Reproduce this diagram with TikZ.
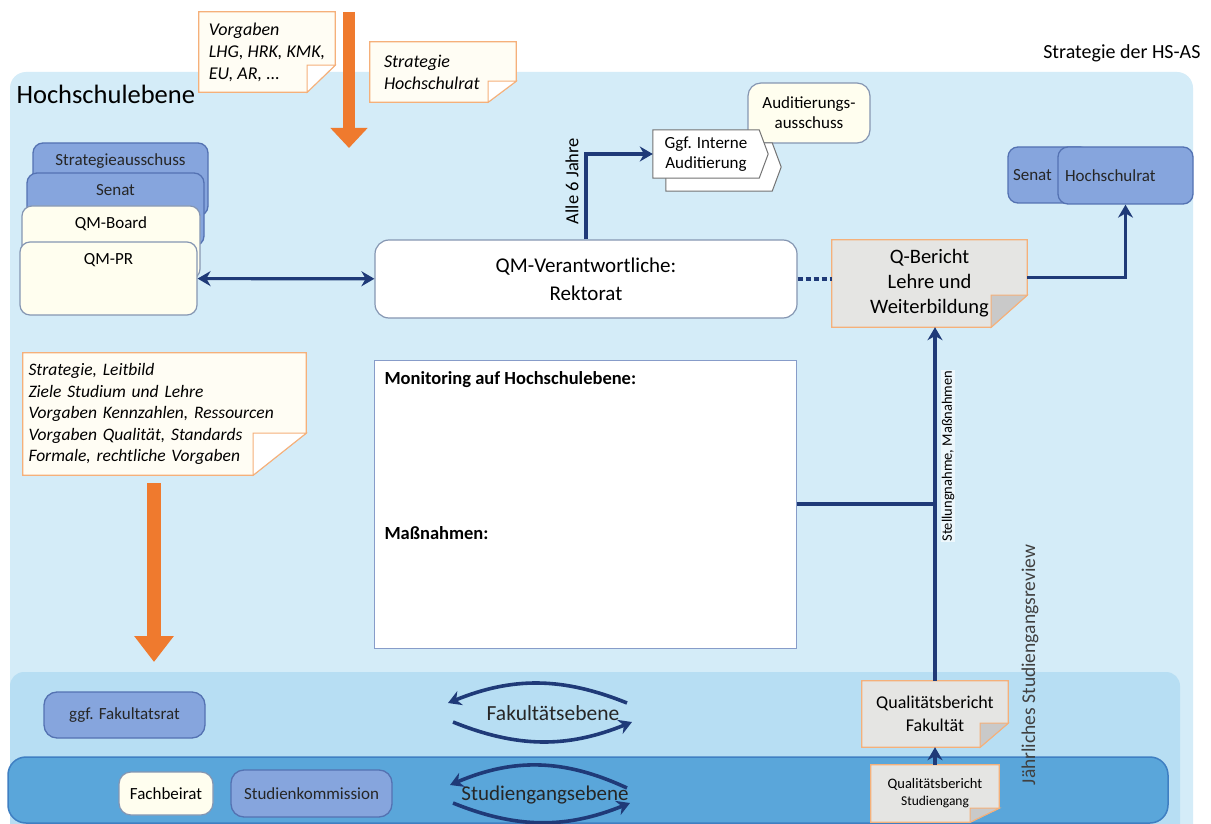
\documentclass[tikz,border=0pt]{standalone}
\usepackage{fontspec}
\setmainfont{Carlito}
\usetikzlibrary{arrows.meta,positioning}
\pgfdeclarelayer{back}
\pgfdeclarelayer{notes}
\pgfsetlayers{back,notes,main}

\definecolor{hsbg}{HTML}{D4ECF8}
\definecolor{fakbg}{HTML}{B7DEF3}
\definecolor{stgbg}{HTML}{5AA6DA}
\definecolor{stgline}{HTML}{3F7FC2}
\definecolor{boxblue}{HTML}{86A5DD}
\definecolor{boxline}{HTML}{5472B2}
\definecolor{cream}{HTML}{FFFEEF}
\definecolor{creamline}{HTML}{8596B2}
\definecolor{notefill}{HTML}{FFFDF4}
\definecolor{noteline}{HTML}{F5B07A}
\definecolor{notegray}{HTML}{E5E5E3}
\definecolor{foldgray}{HTML}{C9C9C9}
\definecolor{navy}{HTML}{1F3A78}
\definecolor{orangearr}{HTML}{EF7A2E}

\begin{document}
\begin{tikzpicture}[x=1pt, y=-1pt, >={Stealth[length=13pt,width=15pt]},
 every edge/.style = {->, draw=navy, line width=3.2pt},
 fs/.style args = {#1/#2}{font=\fontsize{#1}{#2}\selectfont},
 fsi/.style args = {#1/#2}{font=\fontsize{#1}{#2}\selectfont\itshape},
 sz/.style args = {#1/#2}{minimum width=#1, minimum height=#2, inner sep=0pt},
 bluebox/.style = {draw=boxline, fill=boxblue, line width=1.3pt, rounded corners=10pt, fs=17/20, text=black!85},
 creambox/.style = {draw=creamline, fill=cream, line width=1.2pt, rounded corners=10pt, fs=17/20},
 stack/.style = {sz=#1/73, text height=15pt, text depth=43pt, inner ysep=7.5pt},
 note/.style = {sz=#1, align=left},
 conn/.style = {draw=navy, line width=3.2pt, ->},
 rlabel/.style = {rotate=90, inner sep=1pt}]

\useasboundingbox (0,0) rectangle (1211,824);

% bands
\begin{pgfonlayer}{back}
\fill[white] (0,0) rectangle (1211,824);
\fill[hsbg, rounded corners=16pt] (10,72) rectangle (1193,880);
\fill[fakbg, rounded corners=14pt] (10,672) rectangle (1180,880);
\filldraw[fill=stgbg, draw=stgline, line width=1.5pt, rounded corners=18pt] (8,757) rectangle (1168,823);
\end{pgfonlayer}

\node(hsebene) [anchor=base west, fs=26.5/30] at (13,104) {Hochschulebene};
\node(hsas) [anchor=base east, fs=20/24] at (1204,59) {Strategie der HS-AS};

% notes
\node(vorg) [note=136/80, fsi=18/22] at (267,52) {Vorgaben\\LHG, HRK, KMK,\\EU, AR, ...};
\node(hsrat) [note=146/60, fsi=18/22, text width=118] at (443,72) {Strategie\\Hochschulrat};
\node(strat) [note=283/122, fsi=17.5/21.5, text width=272] at (164.5,414) {Strategie, Leitbild\\Ziele Studium und Lehre\\Vorgaben Kennzahlen, Ressourcen\\Vorgaben Qualität, Standards\\Formale, rechtliche Vorgaben};
\node(qber) [note=195/87, align=center, fs=20.5/25] at (929.5,283.5) {Q-Bericht\\Lehre und\\Weiterbildung};
\node(qbfak) [note=146/66, align=center, fs=18/23] at (935,714) {Qualitätsbericht\\Fakultät};
\node(qbstg) [note=128/57, align=center, fs=14.5/17] at (935,793.5) {Qualitätsbericht\\{\fontsize{13.5}{17}\selectfont Studiengang}};

% left stack
\node(sta) [bluebox, stack=175] at (120.5,179.5) {Strategieausschuss};
\node(sen) [bluebox, stack=177] at (115.5,209.5) {Senat};
\node(qmb) [creambox, stack=178] at (111,242.5) {QM-Board};
\node(qmpr) [creambox, stack=177] at (108.5,278.5) {QM-PR};

\node(qm) [creambox, sz=422/78, fill=white, rounded corners=14pt, align=center, fs=21/28] at (586,279) {QM-Verantwortliche:\\Rektorat};
\node(mon) [sz=422/288, fill=white, draw=boxline!70, line width=1pt] at (585,504) {};
\node(monh) [anchor=base west, fs=18.5/22] at (381,384) {\bfseries Monitoring auf Hochschulebene:};
\node(massn) [anchor=base west, fs=18.5/22] at (381,539) {\bfseries Maßnahmen:};

\node(ggf) [sz=106/48, align=center, fs=17/20] at (706,154) {Ggf. Interne\\Auditierung};

\node(senr) [bluebox, sz=82/56, align=left, text width=72, inner xsep=5pt] at (1049,175) {Senat};
\node(hsr) [bluebox, sz=135/57, align=left, text width=121, inner xsep=7pt] at (1125.5,175.5) {Hochschulrat};

\node(ggfak) [bluebox, sz=161/46, rounded corners=13pt] at (124.5,715) {ggf. Fakultatsrat};
\node(fachb) [creambox, sz=94/43, rounded corners=12pt] at (166,793.5) {Fachbeirat};
\node(stkom) [bluebox, sz=161/47, rounded corners=13pt] at (311.5,793.5) {Studienkommission};

\node(fakeb) [fs=21.5/24, text=black!85] at (553,713) {Fakultätsebene};
\node(stgeb) [fs=21/24, text=black!85] at (545,795) {Studiengangsebene};

\node(alle) [rlabel, fs=18.5/20] at (572,181) {Alle 6 Jahre};
\node(stell) [rlabel, fs=14.5/16, fill=white, fill opacity=0.6, text opacity=1] at (948,456) {Stellungnahme, Maßnahmen};
\node(review) [rlabel, fs=19.5/22, text=black!75] at (1030,665) {Jährliches Studiengangsreview};

% note outlines, audit boxes
\begin{pgfonlayer}{notes}
\foreach \n/\c/\fc/\fx/\fy in {vorg/notefill/white/28/27, hsrat/notefill/white/28/21,
    strat/notefill/white/53/42, qber/notegray/foldgray/36/32,
    qbfak/notegray/foldgray/28/24, qbstg/notegray/foldgray/29/14}
{
 \filldraw[fill=\c, draw=noteline, line width=1.2pt] (\n.north west) -- (\n.north east)
   -- ([yshift=\fy pt]\n.south east) -- ([xshift=-\fx pt]\n.south east) -- (\n.south west) -- cycle;
 \filldraw[fill=\fc, draw=noteline, line width=1pt] ([yshift=\fy pt]\n.south east)
   -- ([xshift=-\fx pt, yshift=\fy pt]\n.south east) -- ([xshift=-\fx pt]\n.south east) -- cycle;
}
\node(aus) [creambox, sz=122/60, align=center, rounded corners=13pt] at (809,113) {Auditierungs-\\ausschuss};
\foreach \s in {13,0}
 \filldraw[fill=white, draw=black!55, line width=1pt] ([shift={(\s,\s)}]ggf.north west)
   -- ([shift={(\s,\s)}]ggf.north east) -- ([shift={(\s+9,\s)}]ggf.east)
   -- ([shift={(\s,\s)}]ggf.south east) -- ([shift={(\s,\s)}]ggf.south west) -- cycle;
\end{pgfonlayer}

% orange arrows
\coordinate (in1) at (349,12);
\coordinate (in1e) at (349,148);
\coordinate (in2) at (154,483);
\coordinate (in2e) at (154,662);
\draw[orangearr, line width=12pt, -{Triangle[length=20pt,width=36pt]}] (in1) -- (in1e);
\draw[orangearr, line width=14pt, -{Triangle[length=26pt,width=38pt]}] (in2) -- (in2e);

% connectors
\path (qmpr) edge[<->] (qm)
      (qbstg) edge (qbfak)
      (qbfak) edge (qbfak.north |- qber.south);
\draw[conn] (qm.north) |- (ggf);
\draw[conn] ([yshift=6pt]qber.east) -| (hsr);
\draw[navy, line width=3.2pt] (mon.east) -- (mon.east -| qbfak.north);
\draw[navy, line width=3.2pt, dash pattern=on 5pt off 3pt] (qm.east) -- (qm.east -| qber.west);

% cycles
\coordinate (fa1) at (627,703);
\coordinate (fa2) at (448,703);
\coordinate (fa3) at (453,722);
\coordinate (fa4) at (632,722);
\coordinate (st1) at (627,788);
\coordinate (st2) at (450,785);
\coordinate (st3) at (453,803);
\coordinate (st4) at (630,803);
\path (fa1) edge[bend right=22, line width=3.6pt] (fa2)
      (fa3) edge[bend right=22, line width=3.6pt] (fa4)
      (st1) edge[bend right=24, line width=3.6pt] (st2)
      (st3) edge[bend right=22, line width=3.6pt] (st4);

\end{tikzpicture}
\end{document}
